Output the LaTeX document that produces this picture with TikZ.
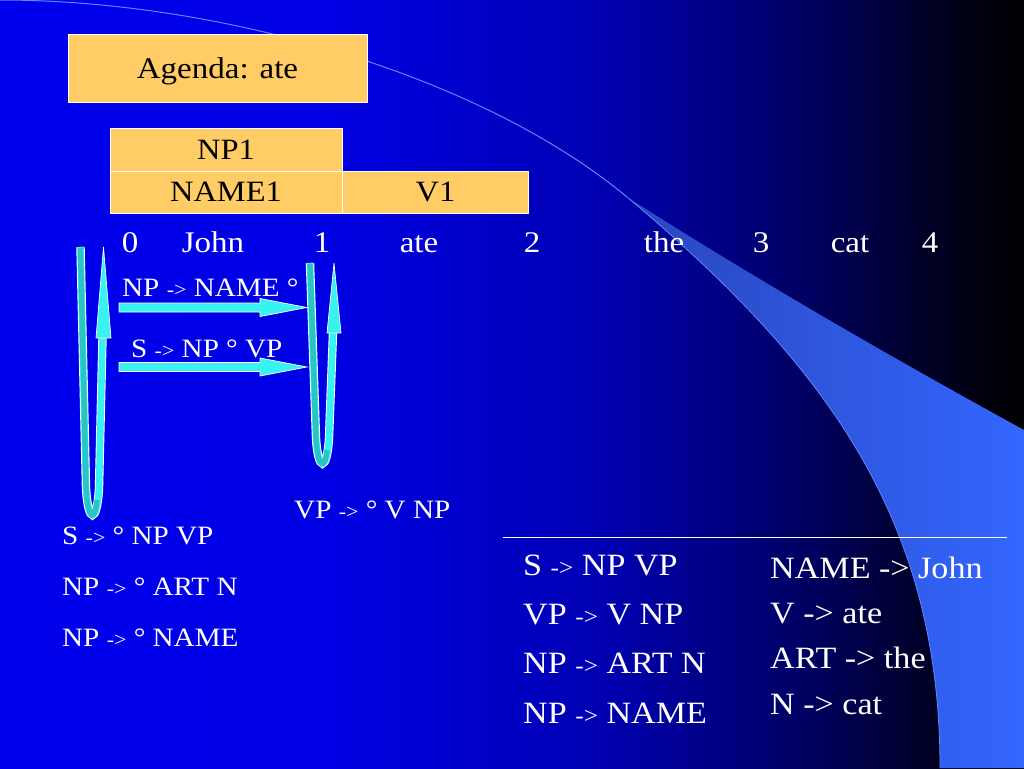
\documentclass[tikz,border=0pt]{standalone}
\usepackage{fontspec}
\setmainfont{Liberation Serif}[FakeStretch=1.1]
\definecolor{boxfill}{HTML}{FFCC66}
\definecolor{cyanA}{HTML}{38F2F2}
\definecolor{tealA}{HTML}{2AC4C4}
\definecolor{swA}{HTML}{2A46BC}
\definecolor{swB}{HTML}{3366FF}
\definecolor{swLine}{HTML}{5A88FF}
\definecolor{bgA}{RGB}{0,0,238}
\definecolor{bgB}{RGB}{0,0,228}
\definecolor{bgC}{RGB}{0,0,178}
\definecolor{bgD}{RGB}{0,0,100}
\definecolor{bgE}{RGB}{0,0,22}
\pgfdeclarehorizontalshading{bgshade}{100bp}{color(0bp)=(bgA); color(25bp)=(bgA); color(41bp)=(bgB); color(54.3bp)=(bgC); color(64.1bp)=(bgD); color(71.9bp)=(bgE); color(75bp)=(black); color(100bp)=(black)}
\newcommand\arw[1]{{\fontsize{#1}{#1}\selectfont -{>}}}
\begin{document}
\begin{tikzpicture}[x=1pt,y=-1pt,
  lbl/.style={text=white, anchor=base west, inner sep=0pt, font=\fontsize{26.5}{26.5}\selectfont},
  gram/.style={text=white, anchor=base west, inner sep=0pt, font=\fontsize{31}{31}\selectfont},
  wordpos/.style={text=white, anchor=base, inner sep=0pt, font=\fontsize{30}{30}\selectfont},
  cbox/.style={draw=white, line width=0.8pt, fill=boxfill, text=black, inner sep=0pt, text depth=0pt, font=\fontsize{29.5}{29.5}\selectfont},
  blk/.style={fill=cyanA, draw=white, line width=0.7pt, line join=miter},
  uwhite/.style={draw=white, line width=8.4pt},
  ucyan/.style={draw=cyanA, line width=6.6pt},
  uteal/.style={draw=tealA, line width=5.4pt},
]
\useasboundingbox (0,0) rectangle (1024,768);
\shade[shading=bgshade] (0,0) rectangle (1024,768);
% swoosh
\shade[left color=swA, right color=swB] (627,197) .. controls (760,282) and (900,362) .. (1024,430) -- (1024,768) -- (940,768) .. controls (940,520) and (827,365) .. (627,197) -- cycle;
\draw[swLine, line width=1pt] (0,0) .. controls (220,0) and (480,75) .. (627,197);
\draw[swLine, line width=0.8pt] (627,197) .. controls (827,365) and (940,520) .. (940,768);

% boxes
\node[cbox, minimum width=299pt, minimum height=68pt, font=\fontsize{30}{30}\selectfont] (agenda) at (217.5,68) {Agenda: ate};
\node[cbox, minimum width=232pt, minimum height=43pt] (np1) at (226,149.5) {NP1};
\node[cbox, minimum width=232pt, minimum height=42pt] (name1) at (226,192) {NAME1};
\node[cbox, minimum width=186pt, minimum height=42pt] (v1) at (435.5,192) {V1};

% positions and words
\node[wordpos] (p0) at (130,252) {0};
\node[wordpos] (wjohn) at (213,252) {John};
\node[wordpos] (p1) at (322,252) {1};
\node[wordpos] (wate) at (419,252) {ate};
\node[wordpos] (p2) at (532,252) {2};
\node[wordpos] (wthe) at (664,252) {the};
\node[wordpos] (p3) at (761,252) {3};
\node[wordpos] (wcat) at (850,252) {cat};
\node[wordpos] (p4) at (930,252) {4};

% U arrows
\coordinate (u1top) at (80.5,247);
\coordinate (u1tip) at (103.5,247);
\coordinate (u2top) at (310,263);
\coordinate (u2tip) at (334,263);
\draw[uwhite] (u1top) -- (86,488) .. controls (88,524) and (97,524) .. (99,488) -- (102.5,338);
\draw[ucyan] (u1top) -- (86,488) .. controls (88,524) and (97,524) .. (99,488) -- (102.5,338);
\draw[uteal] (80.5,248) -- (86,488) .. controls (88,522) and (95,522) .. (97,500);
\draw[blk] (u1tip) -- (111,338) -- (96,338) -- cycle;

\draw[uwhite] (u2top) -- (316,438) .. controls (318,472) and (327,472) .. (329,438) -- (333,333);
\draw[ucyan] (u2top) -- (316,438) .. controls (318,472) and (327,472) .. (329,438) -- (333,333);
\draw[uteal] (310,264) -- (316,438) .. controls (318,470) and (325,470) .. (327,450);
\draw[blk] (u2tip) -- (341,333) -- (327,333) -- cycle;

% horizontal block arrows
\coordinate (h1s) at (119,307.5);
\coordinate (h1e) at (307,307.5);
\coordinate (h2s) at (119,367);
\coordinate (h2e) at (307,367);
\draw[blk] (h1s) ++(0,-4.5) -- ++(141,0) -- ++(0,-4.5) -- (h1e) -- ++(-47,9) -- ++(0,-4.5) -- ++(-141,0) -- cycle;
\draw[blk] (h2s) ++(0,-4.5) -- ++(141,0) -- ++(0,-4.5) -- (h2e) -- ++(-47,9) -- ++(0,-4.5) -- ++(-141,0) -- cycle;

% dotted-rule labels
\node[lbl] (l1) at (122,296) {NP \arw{20} NAME °};
\node[lbl] (l2) at (131,357) {S \arw{20} NP ° VP};
\node[lbl] (l3) at (294,518) {VP \arw{20} ° V NP};
\node[lbl] (l4) at (62,544) {S \arw{20} ° NP VP};
\node[lbl] (l5) at (62,595) {NP \arw{20} ° ART N};
\node[lbl] (l6) at (62,646) {NP \arw{20} ° NAME};

% grammar
\coordinate (rl) at (503,537);
\coordinate (rr) at (1007,537);
\draw[white, line width=0.9pt] (rl) -- (rr);
\node[gram] (g1) at (523,575) {S \arw{23} NP VP};
\node[gram] (g2) at (523,624) {VP \arw{23} V NP};
\node[gram] (g3) at (523,673) {NP \arw{23} ART N};
\node[gram] (g4) at (523,723) {NP \arw{23} NAME};
\node[gram] (k1) at (770,578) {NAME -> John};
\node[gram] (k2) at (770,623) {V -> ate};
\node[gram] (k3) at (770,668) {ART -> the};
\node[gram] (k4) at (770,714) {N -> cat};
\end{tikzpicture}
\end{document}
